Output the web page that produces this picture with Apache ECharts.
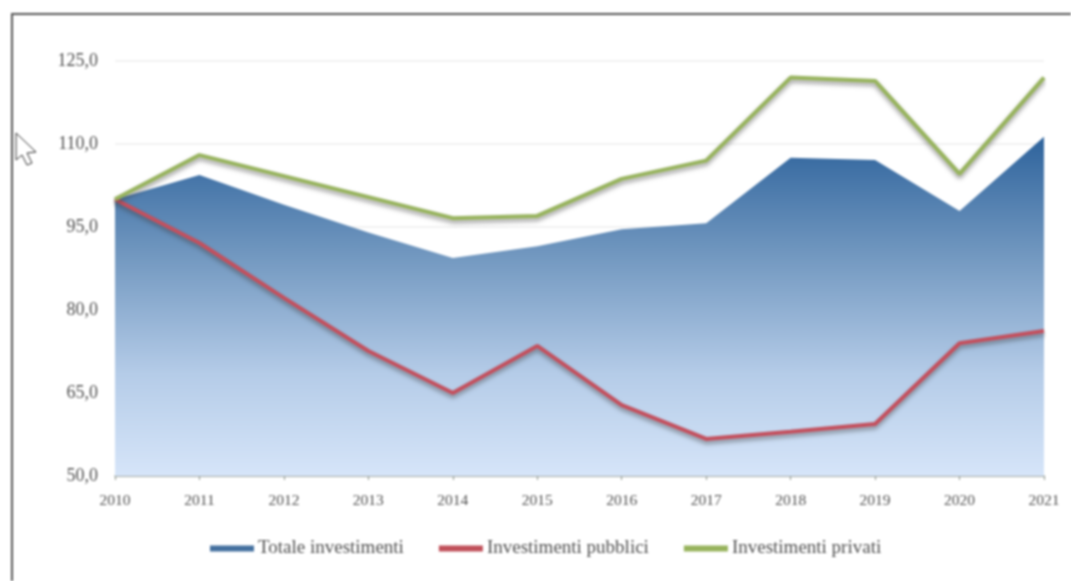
<!DOCTYPE html>
<html><head><meta charset="utf-8">
<script src="https://cdn.jsdelivr.net/npm/echarts@6/dist/echarts.min.js"></script>
<style>html,body{margin:0;padding:0;background:#fff}#c{width:1071px;height:581px;filter:blur(0.9px)}</style>
</head><body><div id="c"></div>
<script>
const years=['2010','2011','2012','2013','2014','2015','2016','2017','2018','2019','2020','2021'];
const totale=[100,104.4,99,94,89.4,91.5,94.6,95.7,107.5,107.1,97.9,111.3];
const pubblici=[100,92.1,82.2,72.6,65,73.5,62.8,56.7,58,59.4,74,76.2];
const privati=[100,108,104.2,100.4,96.6,97,103.7,107,122,121.4,104.6,122];
const font='"Liberation Serif",serif';
const chart=echarts.init(document.getElementById('c'),null,{renderer:'canvas'});
const line=(name,data,color)=>({name,type:'line',data,symbol:'none',z:3,
  lineStyle:{color,width:4,shadowColor:'rgba(60,60,60,0.5)',shadowBlur:4,shadowOffsetY:3},
  itemStyle:{color}});
chart.setOption({
  animation:false,
  backgroundColor:'#fff',
  grid:{left:115,right:27,top:61,bottom:105},
  legend:{bottom:18,left:205,itemGap:35,itemWidth:44,itemHeight:6,icon:'rect',
    textStyle:{fontFamily:font,fontSize:19,color:'#505050',padding:[0,0,0,-1]},
    data:[
      {name:'Totale investimenti',itemStyle:{color:'#44709f'}},
      {name:'Investimenti pubblici',itemStyle:{color:'#c0505a'}},
      {name:'Investimenti privati',itemStyle:{color:'#97b35c'}}]},
  xAxis:{type:'category',data:years,boundaryGap:false,
    axisLine:{lineStyle:{color:'#8a938a',width:1.5}},
    axisTick:{show:true,alignWithLabel:true,length:4,lineStyle:{color:'#8a938a'}},
    axisLabel:{fontFamily:font,fontSize:15.5,color:'#505050',margin:17,showMinLabel:true,showMaxLabel:true,hideOverlap:false},
    splitLine:{show:false}},
  yAxis:{type:'value',min:50,max:125,interval:15,
    axisLine:{show:false},axisTick:{show:false},
    axisLabel:{fontFamily:font,fontSize:18,color:'#505050',margin:17,formatter:v=>v.toFixed(1).replace('.',',')},
    splitLine:{lineStyle:{color:'#eeeeee',width:1.5}}},
  series:[
    {name:'Totale investimenti',type:'line',data:totale,symbol:'none',z:2,
     lineStyle:{width:0},itemStyle:{color:'#44709f'},
     areaStyle:{opacity:1,color:{type:'linear',x:0,y:0,x2:0,y2:1,colorStops:[
       {offset:0,color:'#2e639c'},{offset:0.35,color:'#7298c0'},{offset:0.7,color:'#b5cce8'},{offset:1,color:'#d6e5f9'}]}}},
    line('Investimenti pubblici',pubblici,'#c4505e'),
    line('Investimenti privati',privati,'#98b45e')
  ],
  graphic:[
    {type:'polyline',silent:true,shape:{points:[[1071,14],[12,14],[12,581]]},style:{fill:null,stroke:'#555',lineWidth:2}},
    {type:'polygon',silent:true,z:100,shape:{points:[[16,133],[16,160],[22,155],[27,165],[32,163],[27,153],[36,152]]},
     style:{fill:'#fff',stroke:'#333',lineWidth:1}}
  ]
});
</script></body></html>
